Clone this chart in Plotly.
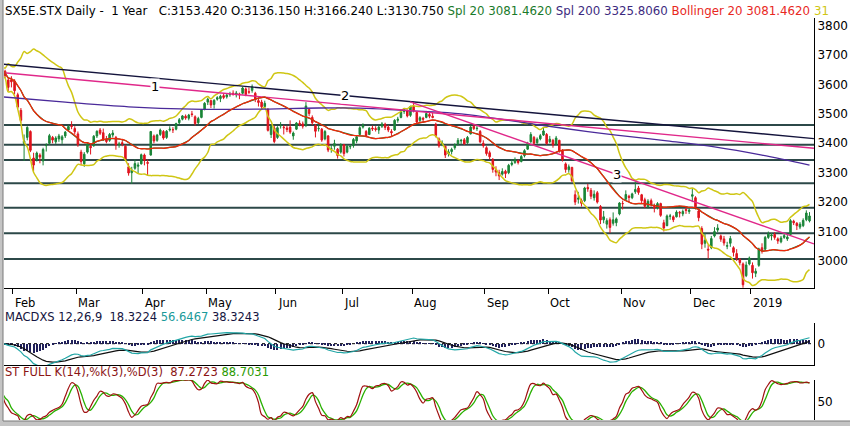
import numpy as np
import pandas as pd
import plotly.graph_objects as go

W, H = 850, 426

# trading days shown (Jan 26 2018 .. Jan 28 2019)
holidays = ['2018-03-30', '2018-04-02', '2018-05-01', '2018-12-25', '2018-12-26', '2019-01-01']
dates = pd.bdate_range('2018-01-26', '2019-01-28')
dates = dates[~dates.isin(pd.to_datetime(holidays))]

opens = [
    3636, 3645, 3615, 3615, 3612, 3565, 3512, 3400, 3420, 3440,
    3350, 3345, 3360, 3340, 3392, 3400, 3420, 3405, 3415, 3412,
    3425, 3445, 3460, 3450, 3432, 3370, 3330, 3370, 3390, 3392,
    3425, 3445, 3436, 3415, 3410, 3428, 3420, 3396, 3402, 3390,
    3320, 3300, 3315, 3322, 3330, 3360, 3335, 3360, 3425, 3410,
    3430, 3440, 3420, 3445, 3446, 3448, 3470, 3482, 3492, 3485,
    3500, 3490, 3470, 3488, 3515, 3540, 3545, 3532, 3550, 3552,
    3562, 3558, 3565, 3570, 3565, 3568, 3570, 3585, 3575, 3580,
    3570, 3545, 3540, 3525, 3515, 3430, 3452, 3420, 3460, 3455,
    3452, 3455, 3425, 3448, 3468, 3466, 3462, 3515, 3488, 3460,
    3450, 3448, 3415, 3425, 3380, 3390, 3380, 3370, 3395, 3370,
    3388, 3392, 3408, 3430, 3455, 3440, 3430, 3452, 3450, 3445,
    3458, 3465, 3455, 3440, 3445, 3478, 3488, 3508, 3510, 3495,
    3525, 3505, 3478, 3485, 3488, 3498, 3492, 3465, 3415, 3395,
    3390, 3365, 3372, 3385, 3398, 3408, 3412, 3402, 3432, 3458,
    3450, 3440, 3400, 3385, 3368, 3345, 3310, 3300, 3295, 3305,
    3300, 3328, 3335, 3340, 3338, 3358, 3380, 3405, 3420, 3402,
    3415, 3428, 3430, 3405, 3410, 3398, 3410, 3375, 3330, 3310,
    3318, 3225, 3210, 3205, 3205, 3250, 3240, 3215, 3232, 3185,
    3140, 3125, 3140, 3128, 3130, 3160, 3195, 3210, 3220, 3215,
    3235, 3248, 3225, 3208, 3185, 3205, 3185, 3182, 3195, 3130,
    3120, 3152, 3150, 3150, 3165, 3160, 3175, 3168, 3220, 3215,
    3170, 3110, 3060, 3040, 3045, 3085, 3105, 3085, 3075, 3050,
    3060, 3045, 3025, 3005, 2990, 2950, 2990, 2985, 2958, 2985,
    3045, 3040, 3080, 3085, 3090, 3075, 3065, 3080, 3075, 3090,
    3135, 3128, 3115, 3120, 3140, 3136]

highs = [
    3655, 3650, 3620, 3628, 3618, 3572, 3520, 3430, 3458, 3444,
    3368, 3372, 3366, 3385, 3400, 3432, 3425, 3424, 3432, 3428,
    3442, 3462, 3475, 3458, 3440, 3378, 3370, 3402, 3398, 3428,
    3444, 3452, 3450, 3425, 3435, 3445, 3425, 3405, 3412, 3395,
    3332, 3320, 3345, 3335, 3365, 3365, 3345, 3442, 3430, 3432,
    3450, 3445, 3445, 3458, 3455, 3470, 3486, 3496, 3498, 3500,
    3510, 3495, 3490, 3516, 3540, 3555, 3548, 3550, 3560, 3565,
    3568, 3570, 3575, 3580, 3578, 3572, 3592, 3590, 3590, 3600,
    3575, 3555, 3548, 3545, 3520, 3462, 3460, 3458, 3472, 3462,
    3460, 3478, 3440, 3472, 3478, 3474, 3540, 3520, 3495, 3465,
    3462, 3452, 3445, 3428, 3395, 3412, 3384, 3400, 3398, 3395,
    3395, 3418, 3428, 3458, 3468, 3445, 3455, 3460, 3458, 3460,
    3472, 3470, 3462, 3448, 3482, 3490, 3515, 3520, 3515, 3528,
    3542, 3508, 3492, 3490, 3510, 3505, 3505, 3470, 3420, 3410,
    3392, 3380, 3385, 3400, 3418, 3415, 3418, 3425, 3460, 3465,
    3462, 3445, 3410, 3390, 3375, 3350, 3322, 3310, 3315, 3310,
    3330, 3345, 3352, 3345, 3360, 3380, 3405, 3438, 3425, 3420,
    3432, 3455, 3435, 3425, 3415, 3425, 3412, 3380, 3335, 3328,
    3320, 3240, 3235, 3212, 3252, 3262, 3248, 3240, 3238, 3190,
    3170, 3145, 3148, 3165, 3148, 3200, 3205, 3240, 3225, 3232,
    3270, 3255, 3228, 3215, 3210, 3212, 3195, 3200, 3198, 3140,
    3158, 3160, 3155, 3172, 3170, 3175, 3182, 3180, 3248, 3220,
    3175, 3118, 3095, 3055, 3085, 3115, 3125, 3090, 3085, 3065,
    3085, 3050, 3040, 3010, 2995, 2998, 3015, 2995, 2975, 3045,
    3060, 3085, 3100, 3095, 3098, 3080, 3085, 3095, 3092, 3142,
    3140, 3132, 3132, 3145, 3172, 3166]

lows = [
    3628, 3622, 3578, 3590, 3566, 3517, 3470, 3340, 3410, 3370,
    3306, 3338, 3332, 3325, 3372, 3395, 3400, 3398, 3405, 3398,
    3418, 3440, 3448, 3430, 3388, 3325, 3320, 3365, 3362, 3388,
    3418, 3428, 3408, 3400, 3405, 3420, 3378, 3385, 3390, 3340,
    3290, 3262, 3310, 3298, 3328, 3325, 3290, 3358, 3400, 3405,
    3425, 3412, 3415, 3440, 3435, 3444, 3465, 3478, 3480, 3478,
    3490, 3460, 3465, 3485, 3512, 3530, 3520, 3518, 3545, 3540,
    3550, 3552, 3558, 3562, 3556, 3550, 3566, 3560, 3568, 3572,
    3540, 3525, 3515, 3518, 3440, 3418, 3400, 3415, 3450, 3430,
    3438, 3432, 3412, 3445, 3458, 3450, 3455, 3492, 3462, 3420,
    3440, 3405, 3410, 3370, 3368, 3378, 3348, 3365, 3355, 3366,
    3380, 3385, 3400, 3428, 3450, 3420, 3428, 3442, 3440, 3432,
    3452, 3445, 3438, 3425, 3442, 3470, 3485, 3500, 3488, 3490,
    3505, 3465, 3470, 3470, 3485, 3485, 3485, 3420, 3385, 3390,
    3350, 3355, 3362, 3378, 3392, 3398, 3395, 3398, 3430, 3445,
    3442, 3400, 3385, 3358, 3345, 3300, 3288, 3275, 3290, 3282,
    3295, 3322, 3330, 3328, 3335, 3352, 3378, 3402, 3395, 3398,
    3410, 3425, 3395, 3400, 3385, 3395, 3368, 3338, 3300, 3300,
    3268, 3190, 3195, 3185, 3200, 3235, 3210, 3205, 3195, 3125,
    3128, 3110, 3095, 3120, 3118, 3155, 3175, 3205, 3200, 3210,
    3228, 3225, 3195, 3180, 3178, 3185, 3165, 3175, 3150, 3100,
    3118, 3140, 3132, 3148, 3148, 3152, 3160, 3160, 3200, 3175,
    3135, 3040, 3045, 3008, 3040, 3080, 3098, 3065, 3052, 3040,
    3048, 3015, 3000, 2985, 2909, 2945, 2985, 2940, 2945, 2980,
    3025, 3035, 3075, 3070, 3072, 3058, 3060, 3075, 3068, 3088,
    3122, 3105, 3108, 3115, 3135, 3131]

closes = [
    3647, 3630, 3590, 3609, 3579, 3523, 3478, 3408, 3454, 3376,
    3326, 3367, 3353, 3379, 3393, 3426, 3411, 3418, 3425, 3422,
    3438, 3457, 3457, 3439, 3396, 3338, 3363, 3398, 3385, 3424,
    3441, 3434, 3413, 3406, 3430, 3435, 3394, 3397, 3398, 3346,
    3299, 3309, 3331, 3326, 3361, 3342, 3332, 3440, 3408, 3428,
    3445, 3418, 3441, 3448, 3446, 3467, 3480, 3493, 3486, 3496,
    3498, 3467, 3484, 3513, 3536, 3550, 3530, 3546, 3555, 3560,
    3556, 3564, 3566, 3566, 3571, 3565, 3588, 3566, 3574, 3592,
    3549, 3539, 3524, 3536, 3444, 3457, 3406, 3453, 3460, 3453,
    3447, 3438, 3435, 3469, 3465, 3458, 3527, 3501, 3470, 3441,
    3450, 3411, 3440, 3377, 3382, 3399, 3358, 3396, 3365, 3390,
    3389, 3413, 3422, 3453, 3462, 3426, 3451, 3449, 3447, 3455,
    3466, 3454, 3445, 3436, 3478, 3482, 3507, 3514, 3493, 3525,
    3512, 3472, 3487, 3482, 3501, 3492, 3488, 3426, 3391, 3401,
    3360, 3371, 3379, 3395, 3410, 3410, 3398, 3420, 3455, 3450,
    3451, 3405, 3392, 3365, 3354, 3311, 3302, 3289, 3304, 3297,
    3325, 3333, 3345, 3335, 3355, 3375, 3400, 3430, 3400, 3414,
    3426, 3442, 3399, 3414, 3395, 3418, 3374, 3345, 3311, 3320,
    3273, 3200, 3213, 3196, 3248, 3245, 3220, 3227, 3200, 3139,
    3150, 3137, 3114, 3140, 3143, 3197, 3195, 3226, 3216, 3228,
    3243, 3233, 3205, 3186, 3203, 3193, 3180, 3195, 3155, 3112,
    3153, 3153, 3140, 3166, 3163, 3168, 3172, 3173, 3225, 3184,
    3147, 3057, 3070, 3037, 3076, 3100, 3112, 3074, 3061, 3052,
    3076, 3029, 3009, 2994, 2919, 2986, 3010, 2960, 2965, 3041,
    3035, 3080, 3091, 3088, 3080, 3068, 3078, 3086, 3081, 3137,
    3130, 3120, 3125, 3138, 3163, 3153]

# 200 day average (bar number, value)
sma200_bar = [0, 20, 40, 60, 80, 100, 115, 130, 145, 160, 170, 185, 194, 210, 225, 240, 255]
sma200_val = [3558, 3540, 3524, 3516, 3516, 3520, 3519, 3510, 3500, 3478, 3462, 3440, 3428, 3408, 3388, 3360, 3326]

# support / resistance levels
levels = [3462, 3395, 3343, 3264, 3181, 3094, 3007]

# trend lines: label, start bar, start price, end bar, end price
trend_names = ['1', '2', '3']
trend_x0 = [0.3, 0.3, 128.9]
trend_y0 = [3640, 3669, 3541]
trend_x1 = [256.4, 256.4, 256.4]
trend_y1 = [3383, 3416, 3058]
trend_colors = ['#e0288a', '#14143c', '#e0288a']
trend_label_bar = [48.3, 108.3, 194.2]

price_ticks = [3000, 3100, 3200, 3300, 3400, 3500, 3600, 3700, 3800]

df = pd.DataFrame({'open': opens, 'high': highs, 'low': lows, 'close': closes})
n = len(df)
idx = np.arange(n)

# indicators
mid = df.close.rolling(20, min_periods=1).mean()
sd = df.close.rolling(20, min_periods=2).std(ddof=0).bfill()
upper = mid + 2 * sd
lower = mid - 2 * sd

ema12 = df.close.ewm(span=12, adjust=False).mean()
ema26 = df.close.ewm(span=26, adjust=False).mean()
macd = ema12 - ema26
signal = macd.ewm(span=9, adjust=False).mean()
hist = macd - signal

ll = df.low.rolling(14, min_periods=1).min()
hh = df.high.rolling(14, min_periods=1).max()
rawk = 100 * (df.close - ll) / (hh - ll)
stk = rawk.rolling(3, min_periods=1).mean()
std_ = stk.rolling(3, min_periods=1).mean()

# month starts
month_pos, month_lab = [], []
for i in range(1, n):
    if dates[i].month != dates[i - 1].month:
        month_pos.append(i)
        month_lab.append('2019' if dates[i].year == 2019 else dates[i].strftime('%b'))


def px(x):
    return x / W


def py(y):
    return 1 - y / H


xr = [0.66, 256.42]
dom = [px(4), px(814)]
FONT = 'DejaVu Sans'

fig = go.Figure()

fig.add_trace(go.Scatter(x=idx, y=upper, mode='lines', line=dict(color='#cfc614', width=1.5, shape='spline'),
                         xaxis='x', yaxis='y', hoverinfo='skip'))
fig.add_trace(go.Scatter(x=idx, y=lower, mode='lines', line=dict(color='#cfc614', width=1.5, shape='spline'),
                         xaxis='x', yaxis='y', hoverinfo='skip'))
fig.add_trace(go.Scatter(x=sma200_bar, y=sma200_val, mode='lines', line=dict(color='#4a2a9a', width=1.3, shape='spline'),
                         xaxis='x', yaxis='y'))
for k in range(len(trend_names)):
    fig.add_trace(go.Scatter(x=[trend_x0[k], trend_x1[k]], y=[trend_y0[k], trend_y1[k]], mode='lines',
                             line=dict(color=trend_colors[k], width=1.4), xaxis='x', yaxis='y'))
fig.add_trace(go.Scatter(x=idx, y=mid, mode='lines', line=dict(color='#1a7a2a', width=1.2), xaxis='x', yaxis='y'))
fig.add_trace(go.Scatter(x=idx, y=mid, mode='lines', line=dict(color='#f0280a', width=1.3, shape='spline'),
                         xaxis='x', yaxis='y'))
fig.add_trace(go.Candlestick(x=idx, open=df.open, high=df.high, low=df.low, close=df.close,
                             increasing=dict(line=dict(color='#1a8538', width=1), fillcolor='#1a8538'),
                             decreasing=dict(line=dict(color='#e0141e', width=1), fillcolor='#e0141e'),
                             whiskerwidth=0, xaxis='x', yaxis='y'))

# MACD panel
fig.add_trace(go.Bar(x=idx, y=hist, width=0.35, marker=dict(color='#20205a', line=dict(width=0)),
                     xaxis='x2', yaxis='y2'))
fig.add_trace(go.Scatter(x=idx, y=signal, mode='lines', line=dict(color='#101010', width=1.2), xaxis='x2', yaxis='y2'))
fig.add_trace(go.Scatter(x=idx, y=macd, mode='lines', line=dict(color='#22a6a6', width=1.2), xaxis='x2', yaxis='y2'))

# stochastic panel
fig.add_trace(go.Scatter(x=idx, y=std_, mode='lines', line=dict(color='#28b000', width=1.3, shape='spline'),
                         xaxis='x3', yaxis='y3'))
fig.add_trace(go.Scatter(x=idx, y=stk, mode='lines', line=dict(color='#a01010', width=1.2, shape='spline'),
                         xaxis='x3', yaxis='y3'))

shapes = []
for lv in levels:
    shapes.append(dict(type='line', xref='x domain', yref='y', x0=0, x1=1, y0=lv, y1=lv,
                       line=dict(color='#2c4848', width=2), layer='below'))
shapes.append(dict(type='line', xref='x2 domain', yref='y2', x0=0, x1=1, y0=0, y1=0,
                   line=dict(color='#000000', width=1, dash='dot'), layer='below'))
# window bevel (left and bottom)
shapes.append(dict(type='rect', xref='paper', yref='paper', x0=0, x1=px(3), y0=0, y1=1,
                   fillcolor='#c4c4c4', line=dict(width=0)))
shapes.append(dict(type='rect', xref='paper', yref='paper', x0=0, x1=1, y0=0, y1=py(421),
                   fillcolor='#c4c4c4', line=dict(width=0)))
shapes.append(dict(type='line', xref='paper', yref='paper', x0=px(3), x1=px(3), y0=py(421), y1=1,
                   line=dict(color='#7a7a7a', width=1)))
shapes.append(dict(type='line', xref='paper', yref='paper', x0=px(3), x1=1, y0=py(421), y1=py(421),
                   line=dict(color='#7a7a7a', width=1)))

annotations = []
title = ('SX5E.STX Daily -  1 Year   C:3153.420 O:3136.150 H:3166.240 L:3130.750 '
         '<span style="color:#1a7a2a">Spl 20 3081.4620</span> '
         '<span style="color:#3c2a80">Spl 200 3325.8060</span> '
         '<span style="color:#e8281e">Bollinger 20 3081.4620</span> '
         '<span style="color:#cfc614">31</span>')
annotations.append(dict(text=title, xref='paper', yref='paper', x=px(3), y=py(11), xanchor='left', yanchor='middle',
                        showarrow=False, font=dict(family=FONT, size=11.8, color='#000000')))
for p, lab in zip(month_pos, month_lab):
    annotations.append(dict(text=lab, xref='x', yref='paper', x=p - 0.5, y=py(303), xanchor='left', yanchor='middle',
                            xshift=0, showarrow=False, font=dict(family=FONT, size=11.5, color='#000000')))
annotations.append(dict(text='MACDXS 12,26,9  18.3224 <span style="color:#1a9a9a">56.6467</span> 38.3243',
                        xref='paper', yref='paper', x=px(3), y=py(317), xanchor='left', yanchor='middle',
                        showarrow=False, font=dict(family=FONT, size=11.5, color='#141440')))
annotations.append(dict(text='ST FULL K(14),%k(3),%D(3)  87.2723 <span style="color:#2a9a00">88.7031</span>',
                        xref='paper', yref='paper', x=px(3), y=py(372), xanchor='left', yanchor='middle',
                        showarrow=False, font=dict(family=FONT, size=11.5, color='#8b1414')))
for k in range(len(trend_names)):
    b = trend_label_bar[k]
    yv = trend_y0[k] + (trend_y1[k] - trend_y0[k]) * (b - trend_x0[k]) / (trend_x1[k] - trend_x0[k])
    annotations.append(dict(text=trend_names[k], x=b, y=yv, xref='x', yref='y', showarrow=False,
                            bgcolor='#ffffff', borderpad=0, font=dict(family=FONT, size=13, color='#000000')))

axis_font = dict(family=FONT, size=12, color='#000000')
fig.update_layout(
    width=W, height=H, margin=dict(l=0, r=0, t=0, b=0),
    paper_bgcolor='#ffffff', plot_bgcolor='#ffffff', showlegend=False, bargap=0,
    xaxis=dict(domain=dom, range=xr, anchor='y', showgrid=False, zeroline=False, showline=True,
               linecolor='#000000', linewidth=1, ticks='outside', ticklen=5, tickcolor='#000000',
               tickvals=[p - 0.5 for p in month_pos], showticklabels=False, rangeslider=dict(visible=False)),
    yaxis=dict(domain=[py(288), py(18)], range=[2908, 3826], side='right', anchor='x', showgrid=False,
               zeroline=False, showline=True, linecolor='#000000', linewidth=1, tickvals=price_ticks,
               ticks='', tickfont=axis_font),
    xaxis2=dict(domain=dom, range=xr, anchor='y2', showgrid=False, zeroline=False, showline=True,
                linecolor='#000000', linewidth=1, showticklabels=False, ticks=''),
    yaxis2=dict(domain=[py(365), py(323)], range=[-71, 69], side='right', anchor='x2', showgrid=False,
                zeroline=False, showline=True, linecolor='#000000', linewidth=1, tickvals=[0], ticks='',
                tickfont=axis_font),
    xaxis3=dict(domain=dom, range=xr, anchor='y3', showgrid=False, zeroline=False, showline=False,
                showticklabels=False, ticks=''),
    yaxis3=dict(domain=[py(420), py(380)], range=[11, 97], side='right', anchor='x3', showgrid=False,
                zeroline=False, showline=True, linecolor='#000000', linewidth=1, tickvals=[50], ticks='',
                tickfont=axis_font),
    shapes=shapes, annotations=annotations,
)

fig.write_html("out.html", config={'displayModeBar': False},
               post_script="document.body.style.margin='0';document.body.style.overflow='hidden';")
